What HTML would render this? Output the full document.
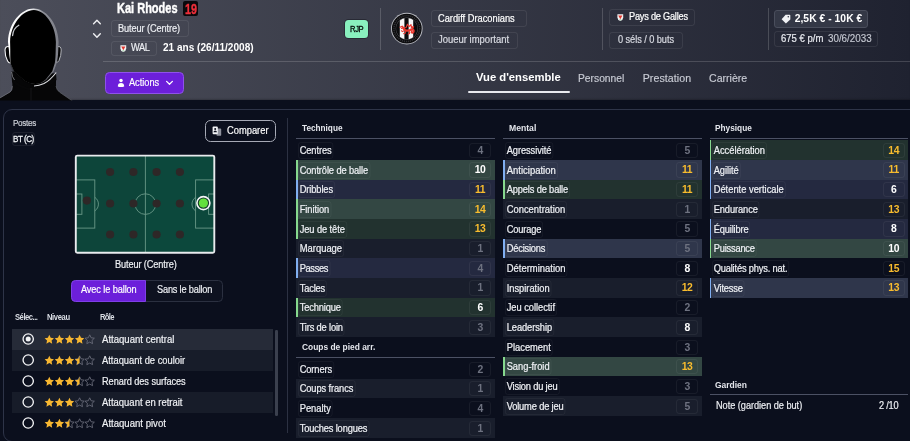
<!DOCTYPE html>
<html lang="fr">
<head>
<meta charset="utf-8">
<title>Kai Rhodes</title>
<style>
*{box-sizing:border-box;margin:0;padding:0}
html,body{width:910px;height:441px;overflow:hidden;background:#0b0f1d}
body{font-family:"Liberation Sans",sans-serif;color:#e9ebf0;font-size:10px;position:relative}
#root{position:absolute;left:0;top:0;width:910px;height:441px;overflow:hidden;will-change:transform}
.abs{position:absolute}
.t{position:absolute;white-space:nowrap;line-height:1;transform-origin:0 50%}
/* header */
#hdr{position:absolute;left:0;top:0;width:910px;height:100.3px;background:linear-gradient(90deg,#4c4e5a 0%,#1f2230 100%);box-shadow:inset 0 -2px 2px -1px rgba(0,0,0,.22)}
.hbox{position:absolute;border:1px solid rgba(255,255,255,.078);border-radius:3px}
.vsep{position:absolute;width:1px;top:7.5px;height:42px;background:rgba(255,255,255,.17)}
#hline{position:absolute;left:102.5px;top:61px;width:808px;height:1px;background:rgba(255,255,255,.16)}
/* panel */
#panel{position:absolute;left:2.9px;top:108.7px;width:920px;height:333.5px;border:1.2px solid #2e3448;border-radius:9px;background:#0b0f1d}
#lsep{position:absolute;left:286.6px;top:118.4px;width:1.8px;height:315px;background:#2c3142}
/* attribute tables */
.col{position:absolute;width:198.5px}
.ch{position:absolute;left:0;width:198.5px;height:1px;background:#4c5164}
.row{position:absolute;left:0;width:198.5px;height:19.67px}
.row.s{background:#191e2c}
.row.g0{background:#22322f}
.row.g1{background:#334743}
.row.b0{background:#242940}
.row.b1{background:#2f364b}
.row.g0:before,.row.g1:before,.row.b0:before,.row.b1:before{content:"";position:absolute;left:0;top:0;bottom:0;width:1.7px;background:#86d88e}
.row.b0:before,.row.b1:before{background:#80aef0}
.lab{position:absolute;transform-origin:0 50%;left:2px;top:1.6px;height:17px;padding:0 1.2px 0 .8px;border:1px solid rgba(255,255,255,.05);border-radius:3px;font-size:10px;line-height:15.6px;color:#eef0f4;white-space:nowrap;-webkit-text-stroke:.22px #eef0f4}
.val{position:absolute;right:3.6px;top:2.5px;width:21.6px;height:15.2px;border:1px solid rgba(255,255,255,.055);border-radius:3px;text-align:center;font-size:10.4px;font-weight:700;line-height:14.5px;letter-spacing:-.4px;color:#6e7280}
.val.w{color:#fff;font-weight:700}
.val.o{color:#f8bc2e;font-weight:700}
.hd{position:absolute;font-size:8.8px;font-weight:700;color:#e1e3ea;letter-spacing:-.28px;white-space:nowrap;line-height:1}
</style>
</head>
<body>
<div id="root">
<div id="hdr"></div>
<!-- silhouette -->
<svg class="abs" style="left:0;top:0" width="80" height="101" viewBox="0 0 80 101">
<defs>
<linearGradient id="rim" x1="0" y1="0" x2="1" y2="0"><stop offset="0" stop-color="#ffffff"/><stop offset=".45" stop-color="#f0f1f3"/><stop offset=".7" stop-color="#8d8f97"/><stop offset="1" stop-color="#7d7f88"/></linearGradient>
<linearGradient id="cap" x1="0" y1="0" x2="0" y2="1"><stop offset="0" stop-color="#4a4b51"/><stop offset=".3" stop-color="#1b1b1e"/><stop offset=".6" stop-color="#050506"/><stop offset="1" stop-color="#000"/></linearGradient>
<clipPath id="hc"><rect x="0" y="0" width="80" height="100.5"/></clipPath>
<filter id="bl" x="-20%" y="-20%" width="140%" height="140%"><feGaussianBlur stdDeviation=".9"/></filter>
<filter id="bl2" x="-20%" y="-20%" width="140%" height="140%"><feGaussianBlur stdDeviation=".45"/></filter>
</defs>
<g clip-path="url(#hc)">
<!-- shoulders -->
<path d="M-1 98.5 L10.5 92 Q12.5 90.5 12.5 87 L11.5 71.5 L56 73.5 L56 86 Q56.5 90 60 92.5 L72.5 101 L-1 101Z" fill="#060607"/>
<path d="M12.3 86 Q12.3 90.5 10 92 L-1 98.5" fill="none" stroke="#777981" stroke-width=".7" filter="url(#bl2)"/>
<path d="M56 86 Q56.5 90 60 92.5 L72.5 101" fill="none" stroke="#5f6169" stroke-width=".7" filter="url(#bl2)"/>
<!-- ears -->
<path d="M9.3 46.8 Q5.4 45.6 5 50 Q4.9 56 7.6 61 Q9 63.6 11.2 62.8Z" fill="#050506" stroke="#f0f1f3" stroke-width="1.1"/>
<path d="M57.6 46.8 Q60.9 45.6 61.2 50 Q61.3 55.5 59 60.5 Q57.6 63 55.6 62.4Z" fill="#050506" stroke="#b5b7bd" stroke-width="1"/>
<!-- head rim -->
<path d="M8 42 C8.5 22 22 8.6 33.6 8.6 C45 8.6 58 22 58.6 42 L58.3 49 C58.1 55 57.6 60 56.7 63 L53.6 71.5 L46.4 79.8 Q41.5 83.6 35.7 83.9 Q30 83.8 25 80.8 L14.3 71.5 L10.7 63.5 C9.8 60 9.3 55 8.8 49Z" fill="url(#rim)"/>
<!-- inner black -->
<path d="M10.1 42 C10.6 24 22.8 10.1 33.9 10.1 C44.2 10.1 55.4 24 55.9 42 L55.7 49 C55.6 55 55.4 60 54.8 63 L52.2 71.3 L45.6 79.4 Q41 83.4 35.7 83.9 Q30 84 25 81 L14.3 71.8 L10.6 63.5 C10.4 60 10.3 55 10.3 49Z" fill="#000" filter="url(#bl2)"/>
<path d="M12 42 C12.5 26 23.5 12 34 12 C43.6 12 53.4 26 54 42 L53.8 49 L53.2 63 L51.2 71.3 L45.4 79.2 Q41 83.2 35.7 83.7 Q30 84 25 81 L14.3 71.8 L11.2 63.5Z" fill="#000" filter="url(#bl)"/>
<path d="M12.6 35.5 Q13 28.5 18.8 25.2" fill="none" stroke="#c5c7cc" stroke-width="1.3" stroke-linecap="round" filter="url(#bl2)"/>
<!-- collar -->
<path d="M11.5 71.5 Q12.5 80 20 84.5 Q28 88.8 35 86.8 Q47 84 56 73.5 L56.5 80 Q48 89 36 90.5 Q22 91 12 82Z" fill="#070708"/>
<path d="M56.2 72.5 Q50 80.5 44 83.6 Q39 86 34 86" fill="none" stroke="#dedfe3" stroke-width="1.1" filter="url(#bl2)"/><path d="M11.6 72 Q12 77 14.5 80" fill="none" stroke="#8d8f96" stroke-width=".8" filter="url(#bl2)"/>
<path d="M31 88 L31 101" stroke="#1d1d20" stroke-width=".7"/>
</g>
</svg>
<!-- name -->
<div class="t" style="left:116.6px;top:.2px;font-size:15.4px;font-weight:700;color:#fff;-webkit-text-stroke:.45px #fff;transform:scaleX(.715)">Kai Rhodes</div>
<div class="abs" style="left:183px;top:1px;width:15.1px;height:15.3px;background:#09090c;border-radius:2px"></div>
<div class="t" style="left:184.7px;top:.8px;font-size:15px;font-weight:700;color:#ee2f3a;-webkit-text-stroke:.4px #ee2f3a;transform:scaleX(.72)">19</div>
<!-- chevrons -->
<svg class="abs" style="left:92px;top:18px" width="10" height="22" viewBox="0 0 10 22"><path d="M1.6 5.7 L4.95 2.3 L8.3 5.7 M1.6 15.8 L4.95 19.3 L8.3 15.8" fill="none" stroke="#eeeff2" stroke-width="1.4" stroke-linecap="round" stroke-linejoin="round"/></svg>
<!-- position box -->
<div class="hbox" style="left:111.3px;top:20.4px;width:77.3px;height:17px"></div>
<div class="t" style="left:117.7px;top:23.88px;font-size:10px;color:#eceef2;-webkit-text-stroke:0.2px #eceef2;letter-spacing:-0.109px;transform:scaleX(0.9200)">Buteur (Centre)</div>
<div class="hbox" style="left:111.3px;top:40.6px;width:45.9px;height:15.6px"></div>
<svg class="abs" style="left:119.6px;top:45px" width="7" height="8" viewBox="0 0 7 8"><path d="M.4 .3 H6.2 V3.4 Q6.2 5.8 3.3 7 Q.4 5.8 .4 3.4Z" fill="#f4f4f4"/><path d="M1.2 1.5 L5.4 1.5 L3.3 5.2Z" fill="#e0372f"/><path d="M1.9 5 Q3.3 6.3 4.7 5 L3.3 6.4Z" fill="#3fae5a"/></svg>
<div class="t" style="left:131.4px;top:43.48px;font-size:10px;color:#eceef2;-webkit-text-stroke:0.2px #eceef2;letter-spacing:-0.378px;transform:scaleX(0.9200)">WAL</div>
<div class="t" style="left:162.8px;top:43.28px;font-size:10.2px;font-weight:700;color:#fff;letter-spacing:0.000px;transform:scaleX(0.9873)">21 ans (26/11/2008)</div>
<div id="hline"></div>
<!-- actions button -->
<div class="abs" style="left:105.2px;top:72px;width:78.6px;height:21.5px;background:#6c1fda;border:1px solid #8f52ea;border-radius:4.5px"></div>
<svg class="abs" style="left:116.5px;top:78px" width="8" height="10" viewBox="0 0 8 10"><circle cx="4" cy="2.5" r="1.75" fill="#fff"/><path d="M.8 8.4 Q.8 5 4 5 Q7.2 5 7.2 8.4 Q4 9.6 .8 8.4Z" fill="#fff"/></svg>
<div class="t" style="left:129.2px;top:78.48px;font-size:10px;color:#fff;-webkit-text-stroke:0.15px #fff;letter-spacing:-0.013px;transform:scaleX(0.9200)">Actions</div>
<svg class="abs" style="left:164.5px;top:80px" width="9" height="6" viewBox="0 0 9 6"><path d="M1.6 1.4 L4.5 4.3 L7.4 1.4" fill="none" stroke="#fff" stroke-width="1.25" stroke-linecap="round" stroke-linejoin="round"/></svg>
<!-- RJP -->
<div class="abs" style="left:345.3px;top:19.9px;width:22.9px;height:17.9px;background:#89f0be;border-radius:3.5px;box-shadow:0 0 0 .9px rgba(22,24,32,.5)"></div>
<div class="t" style="left:349.6px;top:24.55px;font-size:8.3px;color:#050b0a;-webkit-text-stroke:.3px #050b0a;letter-spacing:-0.394px;transform:scaleX(0.9200)">RJP</div>
<div class="vsep" style="left:380.2px"></div>
<!-- club logo -->
<svg class="abs" style="left:390px;top:12px" width="34" height="34" viewBox="0 0 34 34">
<defs><clipPath id="lc"><circle cx="16.8" cy="16.6" r="10.7"/></clipPath></defs>
<circle cx="16.8" cy="16.6" r="15.8" fill="#b9bbc2"/>
<circle cx="16.8" cy="16.6" r="14.9" fill="#0b0b0d"/>
<circle cx="16.8" cy="16.6" r="12.9" fill="none" stroke="#6e6f76" stroke-width="1.6" stroke-dasharray="1.1 .9" opacity=".4"/>
<circle cx="16.8" cy="16.6" r="11.1" fill="#55565c"/>
<g clip-path="url(#lc)">
<rect x="5" y="5" width="24" height="24" fill="#0b0b0d"/>
<rect x="9.8" y="5" width="4.6" height="24" fill="#f6f6f7"/>
<rect x="18.6" y="5" width="4.6" height="24" fill="#f6f6f7"/>
</g>
<g fill="none" stroke="#e8382f" stroke-linecap="round" stroke-linejoin="round">
<path d="M10 15.2 L12.2 14.2 L13.4 15.6 L11.6 16.4 M13.4 15.6 Q15 16.4 16.2 15.4 L17.4 12.2 L19 14.6 L21 12.6 L21.4 15.4 L23.6 14.6 L22.2 17" stroke-width="1.15"/>
<path d="M13.4 15.8 Q14 18.4 16.6 18.6 Q19.6 18.8 21.8 17.2 Q24 17.6 23.6 19.6 Q23 21 21.6 20.4" stroke-width="2.1"/>
<path d="M14.4 18.4 L12.6 19.6 L11.4 18.8 M15.8 18.8 L15 21.6 L13.4 21.8 M19.2 18.8 L19.6 21.6 L18.2 22.2 M21 18 L22 20.8" stroke-width="1.05"/>
</g>
</svg>
<div class="hbox" style="left:431.2px;top:10.4px;width:95.8px;height:16.8px"></div>
<div class="t" style="left:437.5px;top:13.78px;font-size:10px;color:#ffffff;-webkit-text-stroke:0.2px #ffffff;letter-spacing:0.000px;transform:scaleX(0.9282)">Cardiff Draconians</div>
<div class="hbox" style="left:431.2px;top:31.8px;width:87.3px;height:16.8px"></div>
<div class="t" style="left:437.5px;top:35.18px;font-size:10px;color:#d9dbe2;-webkit-text-stroke:0.2px #d9dbe2;letter-spacing:0.000px;transform:scaleX(0.9475)">Joueur important</div>
<div class="vsep" style="left:602.2px"></div>
<div class="hbox" style="left:608.7px;top:9.4px;width:86.1px;height:17px"></div>
<svg class="abs" style="left:617.4px;top:13.6px" width="7" height="8" viewBox="0 0 7 8"><path d="M.4 .3 H6.2 V3.4 Q6.2 5.8 3.3 7 Q.4 5.8 .4 3.4Z" fill="#f4f4f4"/><path d="M1.2 1.5 L5.4 1.5 L3.3 5.2Z" fill="#e0372f"/><path d="M1.9 5 Q3.3 6.3 4.7 5 L3.3 6.4Z" fill="#3fae5a"/></svg>
<div class="t" style="left:629.3px;top:12.18px;font-size:10px;color:#ffffff;-webkit-text-stroke:0.2px #ffffff;letter-spacing:-0.240px;transform:scaleX(0.9200)">Pays de Galles</div>
<div class="hbox" style="left:608.7px;top:31.8px;width:74.6px;height:16.8px"></div>
<div class="t" style="left:617.8px;top:35.18px;font-size:10px;color:#d9dbe2;-webkit-text-stroke:0.2px #d9dbe2;letter-spacing:-0.059px;transform:scaleX(0.9200)">0 séls / 0 buts</div>
<div class="vsep" style="left:768px"></div>
<div class="hbox" style="left:774.2px;top:9.9px;width:93.9px;height:17.8px;background:#343846;border-color:#4a4e5c"></div>
<svg class="abs" style="left:781px;top:13.5px" width="10" height="10" viewBox="0 0 10 10"><path d="M4.6 .8 L8.6 .8 Q9.3 .8 9.3 1.5 L9.3 5.4 L4.9 9.6 L.6 5.2Z" fill="#f1f2f5"/><circle cx="7.3" cy="2.8" r=".8" fill="#353948"/></svg>
<div class="t" style="left:794.7px;top:13.54px;font-size:10.3px;font-weight:700;letter-spacing:0;color:#fff;letter-spacing:0.047px">2,5K € - 10K €</div>
<div class="hbox" style="left:774.2px;top:30.6px;width:103.9px;height:16.2px"></div>
<div class="t" style="left:780.6px;top:33.88px;font-size:10px;color:#e8eaef;-webkit-text-stroke:.2px #e8eaef;letter-spacing:0.000px;transform:scaleX(0.9534)">675 € p/m</div>
<div class="t" style="left:827.6px;top:33.88px;font-size:10px;color:#c5c8d1;-webkit-text-stroke:.15px #c5c8d1;letter-spacing:0.000px;transform:scaleX(0.9801)">30/6/2033</div>
<!-- tabs -->
<div class="t" style="left:475.8px;top:71.66px;font-size:11.5px;font-weight:700;color:#fff;letter-spacing:0.000px;transform:scaleX(0.9773)">Vue d'ensemble</div>
<div class="abs" style="left:467.5px;top:90.6px;width:102px;height:2.3px;background:#e8e9ee;border-radius:1.2px"></div>
<div class="t" style="left:578.4px;top:72.89px;font-size:10.6px;color:#c9ccd5;-webkit-text-stroke:0.15px #c9ccd5;letter-spacing:0.000px;transform:scaleX(0.9700)">Personnel</div>
<div class="t" style="left:642.7px;top:72.89px;font-size:10.6px;color:#c9ccd5;-webkit-text-stroke:0.15px #c9ccd5;letter-spacing:0.075px">Prestation</div>
<div class="t" style="left:708.9px;top:72.89px;font-size:10.6px;color:#c9ccd5;-webkit-text-stroke:0.15px #c9ccd5;letter-spacing:0.000px;transform:scaleX(0.9978)">Carrière</div>

<div id="panel"></div>
<div id="lsep"></div>
<!-- left panel -->
<div class="t" style="left:12.7px;top:119.31px;font-size:8.9px;color:#cfd2da;-webkit-text-stroke:.18px #cfd2da;letter-spacing:-0.355px;transform:scaleX(0.9200)">Postes</div>
<div class="abs" style="left:12.1px;top:132.4px;width:22.9px;height:14.1px;border:1px solid rgba(255,255,255,.075);border-radius:3px"></div>
<div class="t" style="left:13px;top:135.16px;font-size:8.8px;color:#f0f2f5;-webkit-text-stroke:.28px #f0f2f5;letter-spacing:-0.541px;transform:scaleX(0.9200)">BT (C)</div>
<div class="abs" style="left:205.4px;top:119.5px;width:70.4px;height:22.7px;border:1.9px solid #a6a9b5;border-radius:5.5px"></div>
<svg class="abs" style="left:212.3px;top:125.6px" width="11" height="11" viewBox="0 0 11 11"><rect x="4.6" y="2.6" width="4.6" height="7.2" rx=".9" fill="#8f929d"/><rect x=".6" y=".6" width="5.2" height="7.6" rx=".9" fill="#f2f3f6"/><circle cx="3.2" cy="3" r="1" fill="#0b0f1d"/><path d="M1.5 6.2 Q1.5 4.6 3.2 4.6 Q4.9 4.6 4.9 6.2Z" fill="#0b0f1d"/></svg>
<div class="t" style="left:226.9px;top:126.08px;font-size:10px;color:#fff;-webkit-text-stroke:.18px #fff;letter-spacing:0.000px;transform:scaleX(0.9335)">Comparer</div>
<!-- pitch -->
<svg class="abs" style="left:74px;top:154px" width="143" height="100" viewBox="74 154 143 100">
<defs><clipPath id="pc"><rect x="76.2" y="156" width="138" height="96.3"/></clipPath></defs>
<rect x="75.5" y="155.3" width="139.1" height="97.7" rx="1.5" fill="#0d453a"/>
<rect x="145.4" y="156" width="68.5" height="96.3" fill="#0c483c"/>
<g clip-path="url(#pc)" fill="none" stroke="#6a9888" stroke-width=".9">
<line x1="145.4" y1="155" x2="145.4" y2="253"/>
<circle cx="145.4" cy="204.1" r="10.3"/>
<rect x="75.3" y="179.9" width="19.5" height="48.2"/>
<rect x="75.3" y="194" width="6.6" height="20.3"/>
<path d="M94.8 197.3 A8.2 8.2 0 0 1 94.8 210.9"/>
<rect x="195.6" y="179.9" width="19.5" height="48.2"/>
<rect x="208.6" y="194" width="6.6" height="20.3"/>
<path d="M195.6 197.3 A8.2 8.2 0 0 0 195.6 210.9"/>
</g>
<rect x="75.8" y="155.6" width="138.5" height="97.1" rx="1.5" fill="none" stroke="#e9ebee" stroke-width="1.9"/>
<g fill="#2e2727">
<circle cx="110.1" cy="172" r="4.1"/><circle cx="133.4" cy="172" r="4.1"/><circle cx="156.6" cy="172" r="4.1"/><circle cx="179.9" cy="172" r="4.1"/>
<circle cx="110.1" cy="203.5" r="4.1"/><circle cx="133.4" cy="203.5" r="4.1"/><circle cx="156.6" cy="203.5" r="4.1"/><circle cx="179.9" cy="203.5" r="4.1"/>
<circle cx="110.1" cy="234.5" r="4.1"/><circle cx="133.4" cy="234.5" r="4.1"/><circle cx="156.6" cy="234.5" r="4.1"/><circle cx="179.9" cy="234.5" r="4.1"/>
<circle cx="86.9" cy="200.6" r="4.1"/>
</g>
<circle cx="203.4" cy="203.1" r="6.5" fill="#15382c" stroke="#f4f5f6" stroke-width="1.6"/>
<circle cx="203.4" cy="203.1" r="4.6" fill="#63e03e"/>
</svg>
<div class="t" style="left:114.5px;top:259.88px;font-size:10px;color:#eef0f4;-webkit-text-stroke:.18px #eef0f4;letter-spacing:-0.132px;transform:scaleX(0.9200)">Buteur (Centre)</div>
<!-- toggle -->
<div class="abs" style="left:70.9px;top:279.7px;width:152px;height:22.2px;border:1px solid #2b3040;border-radius:4.5px;background:#0e1220"></div>
<div class="abs" style="left:70.9px;top:279.7px;width:75.5px;height:22.2px;background:#6c1fda;border:1px solid #7f3fe6;border-radius:4.5px 0 0 4.5px"></div>
<div class="t" style="left:80.5px;top:285.28px;font-size:10px;color:#fff;-webkit-text-stroke:.18px #fff;letter-spacing:-0.118px;transform:scaleX(0.9200)">Avec le ballon</div>
<div class="t" style="left:156.8px;top:285.28px;font-size:10px;color:#eef0f4;-webkit-text-stroke:.18px #eef0f4;letter-spacing:-0.200px;transform:scaleX(0.9200)">Sans le ballon</div>
<!-- roles table -->
<div class="t" style="left:15.2px;top:312.70px;font-size:8.3px;font-weight:700;color:#dadde4;letter-spacing:-0.515px;transform:scaleX(0.9200)">Sélec...</div>
<div class="t" style="left:46.8px;top:312.70px;font-size:8.3px;font-weight:700;color:#dadde4;letter-spacing:-0.422px;transform:scaleX(0.9200)">Niveau</div>
<div class="t" style="left:99.6px;top:312.70px;font-size:8.3px;font-weight:700;color:#dadde4;letter-spacing:-0.742px;transform:scaleX(0.9200)">Rôle</div>
<div class="abs" style="left:275.3px;top:330px;width:2.4px;height:85.5px;background:#3b404e;border-radius:1.2px"></div>
<svg width="0" height="0" style="position:absolute"><defs><path id="st" d="M0.00 -4.90 L1.41 -1.94 L4.66 -1.51 L2.28 0.74 L2.88 3.96 L0.00 2.40 L-2.88 3.96 L-2.28 0.74 L-4.66 -1.51 L-1.41 -1.94Z"/><clipPath id="hf"><rect x="-5" y="-6" width="5" height="12"/></clipPath></defs></svg>
<div class="abs" style="left:11.6px;top:328.90px;width:261.7px;height:21.1px;background:#262b38"></div>
<svg class="abs" style="left:20px;top:331.05px" width="16" height="16" viewBox="-8 -8 16 16"><circle cx=".2" cy="0" r="5.15" fill="none" stroke="#f3f4f6" stroke-width="1.35"/><circle cx=".2" cy="0" r="2.5" fill="#f3f4f6"/></svg>
<svg class="abs" style="left:43px;top:333.85px" width="54" height="12" viewBox="0 -5.7 54 12"><use href="#st" x="6.30" y="0" fill="#f7b731"/><use href="#st" x="16.40" y="0" fill="#f7b731"/><use href="#st" x="26.50" y="0" fill="#f7b731"/><use href="#st" x="36.60" y="0" fill="#f7b731"/><use href="#st" x="46.70" y="0" fill="none" stroke="#6b6e7c" stroke-width=".85"/></svg>
<div class="t" style="left:102.1px;top:334.73px;font-size:10px;color:#f0f2f5;-webkit-text-stroke:.18px #f0f2f5;letter-spacing:0.000px;transform:scaleX(0.9576)">Attaquant central</div>
<div class="abs" style="left:11.6px;top:350.00px;width:261.7px;height:21.1px;background:#171c29"></div>
<svg class="abs" style="left:20px;top:352.15px" width="16" height="16" viewBox="-8 -8 16 16"><circle cx=".2" cy="0" r="5.15" fill="none" stroke="#f3f4f6" stroke-width="1.35"/></svg>
<svg class="abs" style="left:43px;top:354.95px" width="54" height="12" viewBox="0 -5.7 54 12"><use href="#st" x="6.30" y="0" fill="#f7b731"/><use href="#st" x="16.40" y="0" fill="#f7b731"/><use href="#st" x="26.50" y="0" fill="#f7b731"/><use href="#st" x="36.60" y="0" fill="none" stroke="#6b6e7c" stroke-width=".85"/><g transform="translate(36.60,0)"><use href="#st" fill="#f7b731" clip-path="url(#hf)"/></g><use href="#st" x="46.70" y="0" fill="none" stroke="#6b6e7c" stroke-width=".85"/></svg>
<div class="t" style="left:102.1px;top:355.83px;font-size:10px;color:#f0f2f5;-webkit-text-stroke:.18px #f0f2f5;letter-spacing:0.000px;transform:scaleX(0.9354)">Attaquant de couloir</div>
<svg class="abs" style="left:20px;top:373.25px" width="16" height="16" viewBox="-8 -8 16 16"><circle cx=".2" cy="0" r="5.15" fill="none" stroke="#f3f4f6" stroke-width="1.35"/></svg>
<svg class="abs" style="left:43px;top:376.05px" width="54" height="12" viewBox="0 -5.7 54 12"><use href="#st" x="6.30" y="0" fill="#f7b731"/><use href="#st" x="16.40" y="0" fill="#f7b731"/><use href="#st" x="26.50" y="0" fill="#f7b731"/><use href="#st" x="36.60" y="0" fill="none" stroke="#6b6e7c" stroke-width=".85"/><g transform="translate(36.60,0)"><use href="#st" fill="#f7b731" clip-path="url(#hf)"/></g><use href="#st" x="46.70" y="0" fill="none" stroke="#6b6e7c" stroke-width=".85"/></svg>
<div class="t" style="left:102.1px;top:376.93px;font-size:10px;color:#f0f2f5;-webkit-text-stroke:.18px #f0f2f5;letter-spacing:-0.072px;transform:scaleX(0.9200)">Renard des surfaces</div>
<div class="abs" style="left:11.6px;top:392.20px;width:261.7px;height:21.1px;background:#171c29"></div>
<svg class="abs" style="left:20px;top:394.35px" width="16" height="16" viewBox="-8 -8 16 16"><circle cx=".2" cy="0" r="5.15" fill="none" stroke="#f3f4f6" stroke-width="1.35"/></svg>
<svg class="abs" style="left:43px;top:397.15px" width="54" height="12" viewBox="0 -5.7 54 12"><use href="#st" x="6.30" y="0" fill="#f7b731"/><use href="#st" x="16.40" y="0" fill="#f7b731"/><use href="#st" x="26.50" y="0" fill="#f7b731"/><use href="#st" x="36.60" y="0" fill="none" stroke="#6b6e7c" stroke-width=".85"/><use href="#st" x="46.70" y="0" fill="none" stroke="#6b6e7c" stroke-width=".85"/></svg>
<div class="t" style="left:102.1px;top:398.03px;font-size:10px;color:#f0f2f5;-webkit-text-stroke:.18px #f0f2f5;letter-spacing:0.000px;transform:scaleX(0.9465)">Attaquant en retrait</div>
<svg class="abs" style="left:20px;top:415.45px" width="16" height="16" viewBox="-8 -8 16 16"><circle cx=".2" cy="0" r="5.15" fill="none" stroke="#f3f4f6" stroke-width="1.35"/></svg>
<svg class="abs" style="left:43px;top:418.25px" width="54" height="12" viewBox="0 -5.7 54 12"><use href="#st" x="6.30" y="0" fill="#f7b731"/><use href="#st" x="16.40" y="0" fill="#f7b731"/><use href="#st" x="26.50" y="0" fill="none" stroke="#6b6e7c" stroke-width=".85"/><g transform="translate(26.50,0)"><use href="#st" fill="#f7b731" clip-path="url(#hf)"/></g><use href="#st" x="36.60" y="0" fill="none" stroke="#6b6e7c" stroke-width=".85"/><use href="#st" x="46.70" y="0" fill="none" stroke="#6b6e7c" stroke-width=".85"/></svg>
<div class="t" style="left:102.1px;top:419.13px;font-size:10px;color:#f0f2f5;-webkit-text-stroke:.18px #f0f2f5;letter-spacing:0.000px;transform:scaleX(0.9578)">Attaquant pivot</div>

<div class="col" style="left:296px;top:0">
<div class="t" style="left:6.4px;top:123.8px;font-size:8.8px;font-weight:700;color:#e4e6ec;letter-spacing:0.000px;transform:scaleX(0.9342)">Technique</div>
<div class="ch" style="top:138.3px"></div>
<div class="row" style="top:140.30px"><span class="lab" style="left:2.0px;letter-spacing:-0.101px;transform:scaleX(0.9300)">Centres</span><span class="val">4</span></div>
<div class="row g1" style="top:159.97px"><span class="lab" style="left:2.0px;letter-spacing:-0.122px;transform:scaleX(0.9300)">Contrôle de balle</span><span class="val w">10</span></div>
<div class="row b0" style="top:179.64px"><span class="lab" style="left:2.0px;letter-spacing:-0.109px;transform:scaleX(0.9300)">Dribbles</span><span class="val o">11</span></div>
<div class="row g1" style="top:199.31px"><span class="lab" style="left:2.0px;letter-spacing:-0.074px;transform:scaleX(0.9300)">Finition</span><span class="val o">14</span></div>
<div class="row g0" style="top:218.98px"><span class="lab" style="left:2.0px;letter-spacing:-0.088px;transform:scaleX(0.9300)">Jeu de tête</span><span class="val o">13</span></div>
<div class="row s" style="top:238.65px"><span class="lab" style="left:2.0px;letter-spacing:0.000px;transform:scaleX(0.9416)">Marquage</span><span class="val">1</span></div>
<div class="row b0" style="top:258.32px"><span class="lab" style="left:2.0px;letter-spacing:-0.365px;transform:scaleX(0.9300)">Passes</span><span class="val">4</span></div>
<div class="row s" style="top:277.99px"><span class="lab" style="left:2.0px;letter-spacing:-0.164px;transform:scaleX(0.9300)">Tacles</span><span class="val">1</span></div>
<div class="row g0" style="top:297.66px"><span class="lab" style="left:2.0px;letter-spacing:-0.148px;transform:scaleX(0.9300)">Technique</span><span class="val w">6</span></div>
<div class="row s" style="top:317.33px"><span class="lab" style="left:2.0px;letter-spacing:-0.180px;transform:scaleX(0.9300)">Tirs de loin</span><span class="val">3</span></div>
<div class="t" style="left:5.9px;top:342.8px;font-size:8.8px;font-weight:700;color:#e4e6ec;letter-spacing:0.000px;transform:scaleX(0.9548)">Coups de pied arr.</div>
<div class="ch" style="top:357.2px"></div>
<div class="row" style="top:359.00px"><span class="lab" style="left:2.0px;letter-spacing:-0.121px;transform:scaleX(0.9300)">Corners</span><span class="val">2</span></div>
<div class="row s" style="top:378.67px"><span class="lab" style="left:2.0px;letter-spacing:-0.107px;transform:scaleX(0.9300)">Coups francs</span><span class="val">1</span></div>
<div class="row" style="top:398.34px"><span class="lab" style="left:2.0px;letter-spacing:0.000px;transform:scaleX(0.9354)">Penalty</span><span class="val">4</span></div>
<div class="row s" style="top:418.01px"><span class="lab" style="left:2.0px;letter-spacing:-0.161px;transform:scaleX(0.9300)">Touches longues</span><span class="val">1</span></div>
</div>
<div class="col" style="left:503px;top:0">
<div class="t" style="left:5.6px;top:123.8px;font-size:8.8px;font-weight:700;color:#e4e6ec;letter-spacing:0.000px;transform:scaleX(0.9796)">Mental</div>
<div class="ch" style="top:138.3px"></div>
<div class="row" style="top:140.30px"><span class="lab" style="left:1.9px;letter-spacing:-0.084px;transform:scaleX(0.9300)">Agressivité</span><span class="val">5</span></div>
<div class="row b1" style="top:159.97px"><span class="lab" style="left:1.9px;letter-spacing:0.000px;transform:scaleX(0.9478)">Anticipation</span><span class="val o">11</span></div>
<div class="row g0" style="top:179.64px"><span class="lab" style="left:1.9px;letter-spacing:-0.161px;transform:scaleX(0.9300)">Appels de balle</span><span class="val o">11</span></div>
<div class="row s" style="top:199.31px"><span class="lab" style="left:1.9px;letter-spacing:0.000px;transform:scaleX(0.9396)">Concentration</span><span class="val">1</span></div>
<div class="row" style="top:218.98px"><span class="lab" style="left:1.9px;letter-spacing:-0.175px;transform:scaleX(0.9300)">Courage</span><span class="val">5</span></div>
<div class="row b1" style="top:238.65px"><span class="lab" style="left:1.9px;letter-spacing:-0.204px;transform:scaleX(0.9300)">Décisions</span><span class="val">5</span></div>
<div class="row" style="top:258.32px"><span class="lab" style="left:1.9px;letter-spacing:0.000px;transform:scaleX(0.9446)">Détermination</span><span class="val w">8</span></div>
<div class="row s" style="top:277.99px"><span class="lab" style="left:1.9px;letter-spacing:-0.001px;transform:scaleX(0.9300)">Inspiration</span><span class="val o">12</span></div>
<div class="row" style="top:297.66px"><span class="lab" style="left:1.9px;letter-spacing:-0.026px;transform:scaleX(0.9300)">Jeu collectif</span><span class="val">2</span></div>
<div class="row s" style="top:317.33px"><span class="lab" style="left:1.9px;letter-spacing:-0.074px;transform:scaleX(0.9300)">Leadership</span><span class="val w">8</span></div>
<div class="row" style="top:337.00px"><span class="lab" style="left:1.9px;letter-spacing:0.000px;transform:scaleX(0.9355)">Placement</span><span class="val">3</span></div>
<div class="row g1" style="top:356.67px"><span class="lab" style="left:1.9px;letter-spacing:-0.001px;transform:scaleX(0.9300)">Sang-froid</span><span class="val o">13</span></div>
<div class="row" style="top:376.34px"><span class="lab" style="left:1.9px;letter-spacing:-0.196px;transform:scaleX(0.9300)">Vision du jeu</span><span class="val">3</span></div>
<div class="row s" style="top:396.01px"><span class="lab" style="left:1.9px;letter-spacing:-0.174px;transform:scaleX(0.9300)">Volume de jeu</span><span class="val">5</span></div>
</div>
<div class="col" style="left:709.6px;top:0">
<div class="t" style="left:5.9px;top:123.8px;font-size:8.8px;font-weight:700;color:#e4e6ec;letter-spacing:0.000px;transform:scaleX(0.9406)">Physique</div>
<div class="ch" style="top:138.3px"></div>
<div class="row g0" style="top:140.30px"><span class="lab" style="left:2.3px;letter-spacing:0.000px;transform:scaleX(0.9322)">Accélération</span><span class="val o">14</span></div>
<div class="row b1" style="top:159.97px"><span class="lab" style="left:2.3px;letter-spacing:-0.059px;transform:scaleX(0.9300)">Agilité</span><span class="val o">11</span></div>
<div class="row b0" style="top:179.64px"><span class="lab" style="left:2.3px;letter-spacing:0.000px;transform:scaleX(0.9342)">Détente verticale</span><span class="val w">6</span></div>
<div class="row s" style="top:199.31px"><span class="lab" style="left:2.3px;letter-spacing:-0.105px;transform:scaleX(0.9300)">Endurance</span><span class="val o">13</span></div>
<div class="row b0" style="top:218.98px"><span class="lab" style="left:2.3px;letter-spacing:-0.173px;transform:scaleX(0.9300)">Équilibre</span><span class="val w">8</span></div>
<div class="row g1" style="top:238.65px"><span class="lab" style="left:2.3px;letter-spacing:-0.216px;transform:scaleX(0.9300)">Puissance</span><span class="val w">10</span></div>
<div class="row" style="top:258.32px"><span class="lab" style="left:2.3px;letter-spacing:-0.187px;transform:scaleX(0.9300)">Qualités phys. nat.</span><span class="val o">15</span></div>
<div class="row b1" style="top:277.99px"><span class="lab" style="left:2.3px;letter-spacing:-0.202px;transform:scaleX(0.9300)">Vitesse</span><span class="val o">13</span></div>
<div class="t" style="left:5.0px;top:380.5px;font-size:8.8px;font-weight:700;color:#e4e6ec;letter-spacing:0.000px;transform:scaleX(0.9623)">Gardien</div>
<div class="ch" style="top:393.5px"></div>
<div class="t" style="left:6.7px;top:400.6px;font-size:10px;color:#eef0f4;-webkit-text-stroke:.18px #eef0f4;letter-spacing:-0.040px;transform:scaleX(0.9200)">Note (gardien de but)</div>
<div class="t" style="left:169.9px;top:400.6px;font-size:10px;color:#eef0f4;-webkit-text-stroke:.18px #eef0f4;letter-spacing:-0.261px;transform:scaleX(0.9200)">2 /10</div>
</div>

</div>
</body>
</html>
